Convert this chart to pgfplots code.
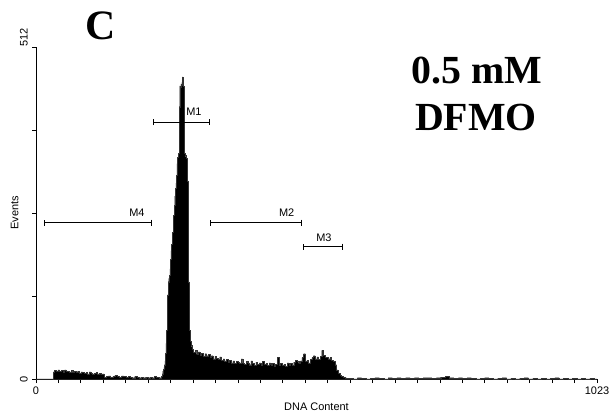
\documentclass[border=0pt]{standalone}
\usepackage{fontspec}
\setmainfont{Liberation Serif}
\setsansfont{Liberation Sans}
\usepackage{pgfplots}
\pgfplotsset{compat=1.18}
\usepackage{pgfplotstable}
\usetikzlibrary{arrows.meta}

\pgfplotstableread{
ch cnt
0 0
30 0
31 11
34 13
37 12
40 14
43 12
46 13
49 11
52 14
55 12
58 12
61 11
64 13
67 10
70 12
73 11
76 12
79 9
82 11
85 10
88 9
91 10
94 8
97 11
100 9
103 8
106 9
109 10
112 8
115 9
118 7
121 8
124 3
128 4
132 5
136 3
140 4
144 6
148 4
152 3
156 5
160 4
164 3
168 4
172 3
176 2
180 4
184 3
188 2
192 3
196 2
200 3
204 2
208 3
212 2
216 4
220 3
224 2
228 4
230 8
231 12
232 15
233 18
234 22
235 28
236 40
237 55
238 75
239 100
240 130
241 150
242 155
243 160
244 170
245 185
246 198
247 208
248 218
249 226
250 235
251 252
252 268
253 282
254 294
255 302
256 314
257 332
258 342
259 345
260 348
261 420
262 452
263 450
264 455
265 453
266 458
267 466
268 462
269 452
270 448
271 348
272 345
273 342
274 340
275 325
276 305
277 230
278 150
279 100
280 75
281 65
282 58
283 52
284 49
285 46
286 44
287 41
290 44
293 38
296 42
299 37
302 40
305 35
308 39
311 36
314 38
317 33
320 36
323 31
326 35
329 32
332 30
335 34
338 29
341 31
344 28
347 30
350 26
353 29
356 25
359 28
362 24
365 27
368 26
371 25
374 31
377 24
380 23
383 27
386 25
389 22
392 28
395 24
398 21
401 26
404 23
407 25
410 22
413 27
416 23
419 24
422 21
425 25
428 22
431 24
434 20
437 23
440 33
443 22
446 24
449 21
452 23
455 20
458 25
461 22
464 24
467 21
470 26
473 29
476 27
479 24
482 28
485 33
488 39
491 27
494 29
497 25
500 30
503 33
506 36
509 31
512 34
515 30
518 35
521 44
524 37
527 33
530 33
533 31
536 33
539 29
542 27
545 22
548 14
551 9
554 6
557 4
560 3
563 2
566 1
570 1
578 0
586 2
594 1
602 0
610 1
618 2
626 1
634 0
642 2
650 1
658 2
666 1
674 2
682 1
690 2
698 1
706 2
714 2
722 1
730 2
738 3
746 4
754 2
762 1
770 2
778 1
786 2
794 1
802 0
810 1
818 2
826 1
834 0
842 1
850 2
858 0
866 1
874 0
882 1
890 2
898 0
906 1
914 0
922 1
930 0
938 1
946 2
954 0
962 1
970 0
978 1
986 0
994 1
1002 0
1010 1
1018 0
1023 0
}\histdata

\begin{document}
\begin{tikzpicture}
\useasboundingbox (0,0) rectangle (613bp,415bp);
\begin{axis}[
  at={(36bp,36bp)}, anchor=south west,
  scale only axis, width=561bp, height=332bp,
  xmin=0, xmax=1023, ymin=0, ymax=512,
  axis x line=bottom, axis y line=left,
  axis line style={-, line width=0.8bp},
  every tick/.style={black, line width=0.8bp},
  tick align=outside,
  major tick length=4bp, minor tick length=4bp,
  xtick={0,1023}, xticklabels={0,1023},
  minor xtick={40.92,81.84,...,1000},
  ytick={0}, yticklabels={0},
  extra y ticks={512}, extra y tick labels={512},
  extra y tick style={yticklabel style={anchor=south west}},
  minor ytick={128,256,384},
  ticklabel style={font=\sffamily\fontsize{11}{13}\selectfont},
  yticklabel style={rotate=90, anchor=south, inner sep=0pt},
  yticklabel shift=4bp,
  xticklabel style={inner sep=0pt},
  xticklabel shift=4bp,
  xlabel={DNA Content}, ylabel={Events},
  label style={font=\sffamily\fontsize{11}{13}\selectfont, inner sep=0pt},
  xlabel style={at={(axis description cs:0.5,-0.084)}, anchor=center},
  ylabel style={at={(axis description cs:-0.038,0.5)}, anchor=center, rotate=0},
  clip=false,
]
\addplot[const plot, fill=black, draw=black!80, line width=0.3bp] table[x=ch,y=cnt] {\histdata} \closedcycle;
% gate markers
\addplot[black, line width=0.8bp, {Bar[width=6bp]}-{Bar[width=6bp]}] coordinates {(214,396) (317,396)};
\addplot[black, line width=0.8bp, {Bar[width=6bp]}-{Bar[width=6bp]}] coordinates {(15,241) (212,241)};
\addplot[black, line width=0.8bp, {Bar[width=6bp]}-{Bar[width=6bp]}] coordinates {(317,241) (485,241)};
\addplot[black, line width=0.8bp, {Bar[width=6bp]}-{Bar[width=6bp]}] coordinates {(486,204) (559,204)};
\node[font=\sffamily\fontsize{11}{13}\selectfont, inner sep=0pt] at (axis cs:288,412) {M1};
\node[font=\sffamily\fontsize{11}{13}\selectfont, inner sep=0pt] at (axis cs:184,257) {M4};
\node[font=\sffamily\fontsize{11}{13}\selectfont, inner sep=0pt] at (axis cs:457,257) {M2};
\node[font=\sffamily\fontsize{11}{13}\selectfont, inner sep=0pt] at (axis cs:525,218) {M3};
\end{axis}
\node[font=\bfseries\fontsize{42}{42}\selectfont, inner sep=0pt] at (101bp,389bp) {C};
\node[font=\bfseries\fontsize{40}{40}\selectfont, inner sep=0pt] at (477bp,344bp) {0.5 mM};
\node[font=\bfseries\fontsize{40}{40}\selectfont, inner sep=0pt] at (476bp,297.5bp) {DFMO};
\end{tikzpicture}
\end{document}
